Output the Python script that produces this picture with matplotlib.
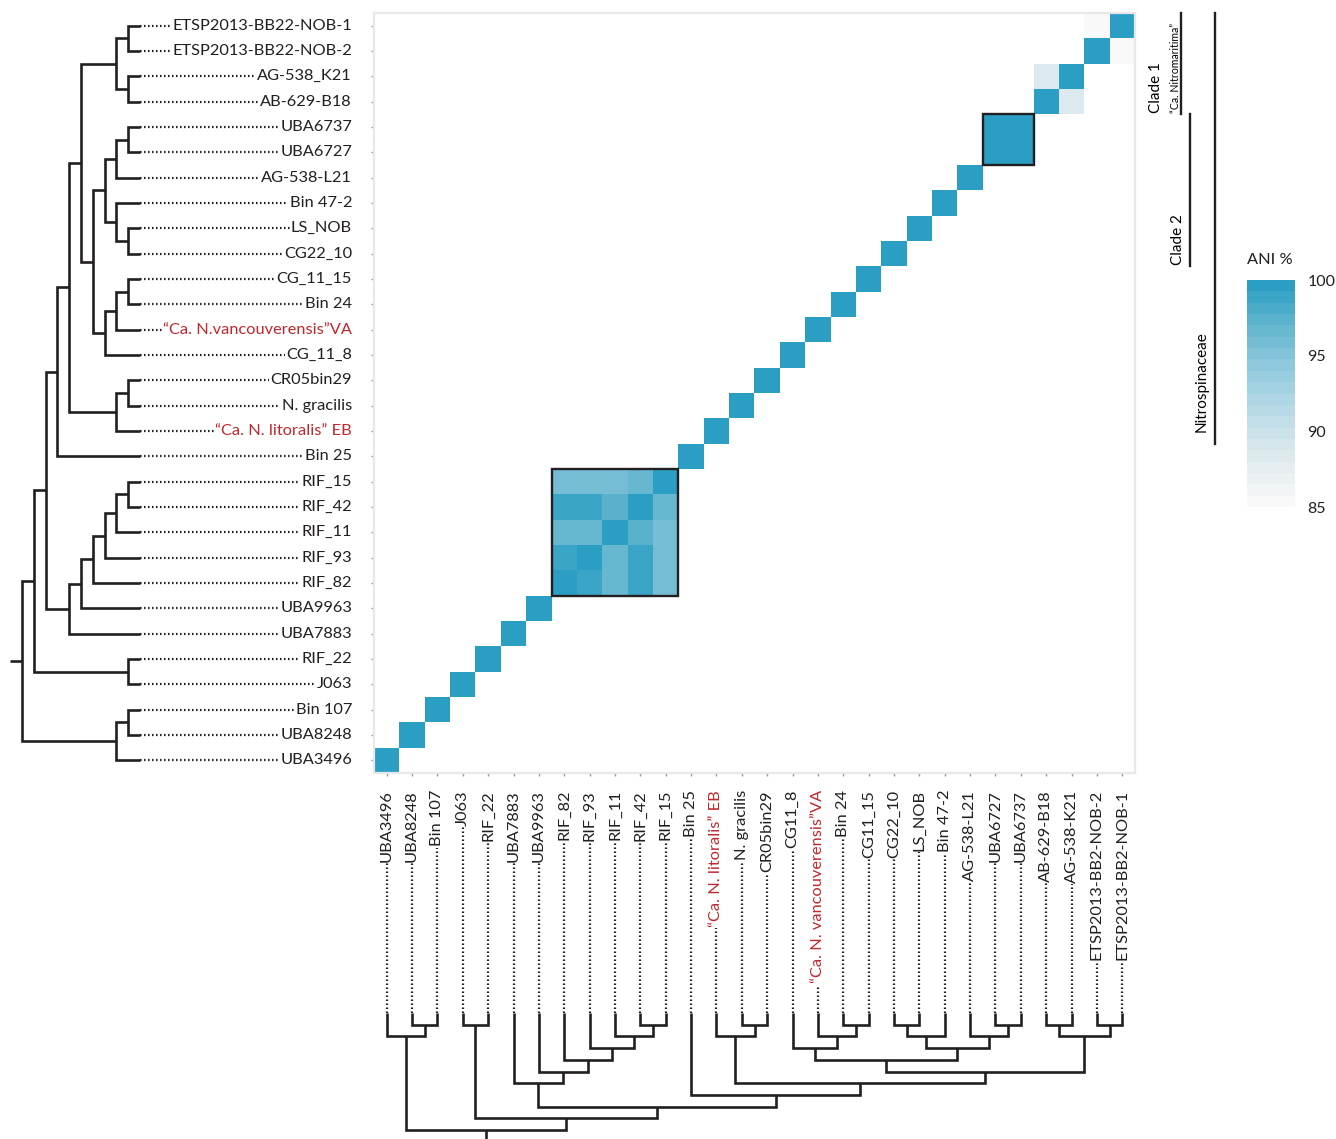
import numpy as np
import matplotlib.pyplot as plt
from matplotlib.colors import LinearSegmentedColormap, Normalize
from matplotlib.cm import ScalarMappable
from matplotlib.patches import Rectangle
import matplotlib.transforms as mtransforms

plt.rcParams['font.family'] = ['Lato', 'DejaVu Sans']

# genomes in heat-map order (bottom -> top rows, left -> right columns)
genomes = ["UBA3496", "UBA8248", "Bin 107", "J063", "RIF_22", "UBA7883", "UBA9963",
           "RIF_82", "RIF_93", "RIF_11", "RIF_42", "RIF_15", "Bin 25", "litoralis",
           "N. gracilis", "CR05bin29", "CG_11_8", "vancouverensis", "Bin 24", "CG_11_15",
           "CG22_10", "LS_NOB", "Bin 47-2", "AG-538-L21", "UBA6727", "UBA6737",
           "AB-629-B18", "AG-538_K21", "ETSP-2", "ETSP-1"]

row_labels = ["UBA3496", "UBA8248", "Bin 107", "J063", "RIF_22", "UBA7883", "UBA9963",
              "RIF_82", "RIF_93", "RIF_11", "RIF_42", "RIF_15", "Bin 25",
              "\u201cCa. N. litoralis\u201d EB", "N. gracilis", "CR05bin29", "CG_11_8",
              "\u201cCa. N.vancouverensis\u201dVA", "Bin 24", "CG_11_15", "CG22_10", "LS_NOB",
              "Bin 47-2", "AG-538-L21", "UBA6727", "UBA6737", "AB-629-B18", "AG-538_K21",
              "ETSP2013-BB22-NOB-2", "ETSP2013-BB22-NOB-1"]

col_labels = ["UBA3496", "UBA8248", "Bin 107", "J063", "RIF_22", "UBA7883", "UBA9963",
              "RIF_82", "RIF_93", "RIF_11", "RIF_42", "RIF_15", "Bin 25",
              "\u201cCa. N. litoralis\u201d EB", "N. gracilis", "CR05bin29", "CG11_8",
              "\u201cCa. N. vancouverensis\u201dVA", "Bin 24", "CG11_15", "CG22_10", "LS_NOB",
              "Bin 47-2", "AG-538-L21", "UBA6727", "UBA6737", "AB-629-B18", "AG-538-K21",
              "ETSP2013-BB2-NOB-2", "ETSP2013-BB2-NOB-1"]

red_genomes = ["litoralis", "vancouverensis"]

# ANI values off the diagonal
rif_names = ["RIF_82", "RIF_93", "RIF_11", "RIF_42", "RIF_15"]
rif_ani = [[100, 99.0, 96.5, 98.5, 95.5],
           [99.0, 100, 96.5, 98.5, 95.5],
           [96.5, 96.5, 100, 97.0, 95.5],
           [98.5, 98.5, 97.0, 100, 96.5],
           [95.5, 95.5, 95.5, 96.5, 100]]
pair_ani = [("UBA6727", "UBA6737", 99.8),
            ("AB-629-B18", "AG-538_K21", 88.0),
            ("ETSP-2", "ETSP-1", 85.4)]
boxed_groups = [rif_names, ["UBA6727", "UBA6737"]]

ani_ticks = [85, 90, 95, 100]
ani_colors = ["#f9f9f9", "#e3edf0", "#c9e1e9", "#a9d4e3", "#86c5da", "#5db3cd", "#2a9fc3"]

# dendrograms: (child, child, level); ints refer to earlier merges
left_merges = [
    ("ETSP-1", "ETSP-2", 1), ("AG-538_K21", "AB-629-B18", 1), (0, 1, 2),
    ("UBA6737", "UBA6727", 1), (3, "AG-538-L21", 2),
    ("LS_NOB", "CG22_10", 1), ("Bin 47-2", 5, 2), (4, 6, 3),
    ("CG_11_15", "Bin 24", 1), (8, "vancouverensis", 2), (9, "CG_11_8", 3),
    (7, 10, 4), (2, 11, 5),
    ("CR05bin29", "N. gracilis", 1), (13, "litoralis", 2), (12, 14, 6),
    (15, "Bin 25", 7),
    ("RIF_15", "RIF_42", 1), (17, "RIF_11", 2), (18, "RIF_93", 3), (19, "RIF_82", 4),
    (20, "UBA9963", 5), (21, "UBA7883", 6), (16, 22, 8),
    ("RIF_22", "J063", 1), (23, 24, 9),
    ("Bin 107", "UBA8248", 1), (26, "UBA3496", 2), (25, 27, 10),
]
bottom_merges = [
    ("UBA8248", "Bin 107", 1), ("UBA3496", 0, 2), ("J063", "RIF_22", 1),
    ("RIF_42", "RIF_15", 1), ("RIF_11", 3, 2), ("RIF_93", 4, 3), ("RIF_82", 5, 4),
    ("UBA9963", 6, 5), ("UBA7883", 7, 6),
    ("N. gracilis", "CR05bin29", 1), ("litoralis", 9, 2),
    ("Bin 24", "CG_11_15", 1), ("vancouverensis", 11, 2), ("CG_11_8", 12, 3),
    ("CG22_10", "LS_NOB", 1), (14, "Bin 47-2", 2),
    ("UBA6727", "UBA6737", 1), ("AG-538-L21", 16, 2), (15, 17, 3), (13, 18, 4),
    ("AB-629-B18", "AG-538_K21", 1), ("ETSP-2", "ETSP-1", 1), (20, 21, 2),
    (19, 22, 5), (10, 23, 6), ("Bin 25", 24, 7), (8, 25, 8), (2, 26, 9), (1, 27, 10),
]

# clade bars on the right: name, top genome, bottom genome
clades = [("Clade 1", "ETSP-1", "AB-629-B18"),
          ("Clade 2", "UBA6737", "CG22_10"),
          ("Nitrospinaceae", "ETSP-1", "litoralis")]

# ---- build matrix
n = len(genomes)
idx = {g: i for i, g in enumerate(genomes)}
M = np.full((n, n), np.nan)
np.fill_diagonal(M, 100.0)
for i, a in enumerate(rif_names):
    for j, b in enumerate(rif_names):
        M[idx[a], idx[b]] = rif_ani[i][j]
for a, b, v in pair_ani:
    M[idx[a], idx[b]] = v
    M[idx[b], idx[a]] = v

cmap = LinearSegmentedColormap.from_list("ani", ani_colors, N=20)
cmap.set_bad("white")
norm = Normalize(85, 100)

W, H = 1336, 1139
fig = plt.figure(figsize=(W / 100, H / 100), dpi=100)


def px_axes(x0, y0, x1, y1):
    return fig.add_axes([x0 / W, 1 - y1 / H, (x1 - x0) / W, (y1 - y0) / H])


TREE = dict(color="#231f20", lw=1.9, solid_joinstyle="miter", solid_capstyle="butt")
DOTS = dict(color="#231f20", lw=1.6, linestyle=(0, (0.7, 1.1)))


def draw_tree(ax, merges, vertical):
    pos = {g: i for i, g in enumerate(genomes)}
    lev = {g: 0 for g in genomes}
    for k, (a, b, h) in enumerate(merges):
        ps = [pos[a], pos[a], pos[b], pos[b]]
        hs = [lev[a], h, h, lev[b]]
        if vertical:
            ax.plot(ps, hs, **TREE)
        else:
            ax.plot(hs, ps, **TREE)
        pos[k] = (pos[a] + pos[b]) / 2
        lev[k] = h
    return pos[k], lev[k]


# ---- heat map
ax = px_axes(374, 13, 1135, 773)
ax.imshow(M, origin="lower", cmap=cmap, norm=norm, aspect="auto",
          interpolation="nearest", extent=(-0.5, n - 0.5, -0.5, n - 0.5))
for grp in boxed_groups:
    lo = min(idx[g] for g in grp)
    ax.add_patch(Rectangle((lo - 0.5, lo - 0.5), len(grp), len(grp), fill=False,
                           ec="#231f20", lw=1.7, zorder=3, clip_on=False))
ax.set_xlim(-0.5, n - 0.5)
ax.set_ylim(-0.5, n - 0.5)
ax.set_xticks(range(n))
ax.set_yticks(range(n))
ax.tick_params(length=2.5, width=1, color="#9a9a9a", labelleft=False, labelbottom=False)
for s in ax.spines.values():
    s.set_color("#e8e8e8")
    s.set_linewidth(1.6)

# clade bars
tr = mtransforms.blended_transform_factory(ax.transAxes, ax.transData)
bar_x = [1.060, 1.072, 1.105]
for (name, top, bot), bx in zip(clades, bar_x):
    y0, y1 = idx[bot] - 0.5, idx[top] + 0.5
    ax.plot([bx, bx], [y0, y1], transform=tr, color="#231f20", lw=1.7, clip_on=False)
ax.text(1.028, idx["AB-629-B18"] - 0.45, "Clade 1", transform=tr, rotation=90,
        ha="center", va="bottom", fontsize=11)
ax.text(1.053, idx["AB-629-B18"] - 0.45, "\u201cCa. Nitromaritima\u201d", transform=tr,
        rotation=90, ha="center", va="bottom", fontsize=7.6)
ax.text(1.057, idx["CG22_10"] - 0.45, "Clade 2", transform=tr, rotation=90,
        ha="center", va="bottom", fontsize=11)
ax.text(1.087, idx["litoralis"] - 0.05, "Nitrospinaceae", transform=tr, rotation=90,
        ha="center", va="bottom", fontsize=11)

# ---- left dendrogram + row labels
axl = px_axes(8, 13, 374, 773)
px_lev = 11.8
axl.set_xlim((140 - 8) / px_lev, -(374 - 140) / px_lev)
axl.set_ylim(-0.5, n - 0.5)
axl.axis("off")
rp, rl = draw_tree(axl, left_merges, vertical=False)
axl.plot([rl, rl + 1], [rp, rp], **TREE)
lab_x = -(352 - 140) / px_lev
for g, lab in zip(genomes, row_labels):
    y = idx[g]
    axl.plot([0, lab_x], [y, y], **DOTS)
    axl.text(lab_x, y, lab, ha="right", va="center", fontsize=11.8,
             color="#c1272d" if g in red_genomes else "#231f20",
             bbox=dict(facecolor="white", edgecolor="none", pad=1.0))

# ---- bottom dendrogram + column labels
axb = px_axes(374, 773, 1135, 1139)
py_lev = 11.7
axb.set_xlim(-0.5, n - 0.5)
axb.set_ylim((1139 - 1013) / py_lev, -(1013 - 773) / py_lev)
axb.axis("off")
rp, rl = draw_tree(axb, bottom_merges, vertical=True)
axb.plot([rp, rp], [rl, rl + 2], **TREE)
lab_y = -(1013 - 790) / py_lev
for g, lab in zip(genomes, col_labels):
    x = idx[g]
    axb.plot([x, x], [0, lab_y], **DOTS)
    axb.text(x, lab_y, lab, rotation=90, ha="center", va="top", fontsize=11.8,
             color="#c1272d" if g in red_genomes else "#231f20",
             bbox=dict(facecolor="white", edgecolor="none", pad=1.0))

# ---- colour bar
cax = px_axes(1247, 280, 1295, 507)
cb = fig.colorbar(ScalarMappable(norm=norm, cmap=cmap), cax=cax, ticks=ani_ticks)
cb.outline.set_visible(False)
cax.tick_params(length=0, pad=9, labelsize=11.5, labelcolor="#231f20")
fig.text(1270 / W, 1 - 260 / H, "ANI %", ha="center", va="center", fontsize=11.8,
         color="#231f20")

fig.savefig("out.png", dpi=100, facecolor="white")
